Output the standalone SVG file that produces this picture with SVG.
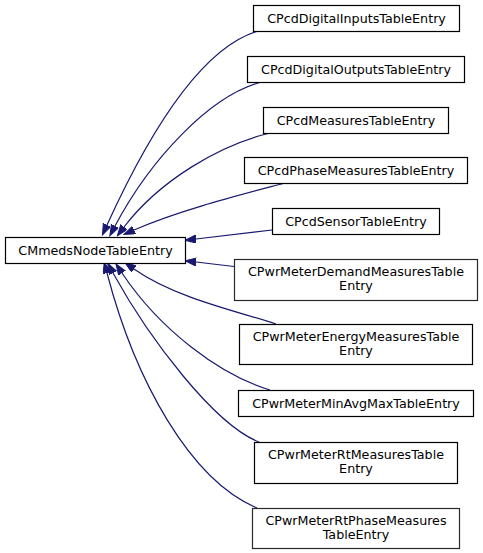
<svg xmlns="http://www.w3.org/2000/svg" width="483" height="553" viewBox="0 0 483 553">
<defs>
<style>
.box{fill:#ffffff;stroke:#000000;stroke-width:1.2}
.grey{stroke:#2a2a2a}
.lbl{font-family:"DejaVu Sans","Liberation Sans",sans-serif;font-size:12.7px;fill:#000000;text-anchor:middle}
.edge{fill:none;stroke:#191970;stroke-width:1.2}
</style>
<marker id="arr" markerUnits="userSpaceOnUse" markerWidth="12" markerHeight="9" refX="0" refY="4" orient="auto">
<path d="M0,0 L11,4 L0,8 z" fill="#191970" stroke="#191970" stroke-width="1"/>
</marker>
</defs>
<rect width="483" height="553" fill="#ffffff"/>
<g id="edges">
<path class="edge" marker-end="url(#arr)" d="M258,31 C200,48 148,135 107,225"/>
<path class="edge" marker-end="url(#arr)" d="M262,82 C210,95 150,160 115,226"/>
<path class="edge" marker-end="url(#arr)" d="M270,133 C220,145 160,180 124,227"/>
<path class="edge" marker-end="url(#arr)" d="M285,183 C240,195 180,210 134,230"/>
<path class="edge" marker-end="url(#arr)" d="M272,230 L196,239"/>
<path class="edge" marker-end="url(#arr)" d="M234,266.5 L196,262"/>
<path class="edge" marker-end="url(#arr)" d="M276,324 C240,312 175,298 134,269"/>
<path class="edge" marker-end="url(#arr)" d="M270,390 C220,375 160,330 122,273"/>
<path class="edge" marker-end="url(#arr)" d="M259,442 C215,425 150,340 113,273"/>
<path class="edge" marker-end="url(#arr)" d="M257,508 C190,480 135,380 107,273"/>
</g>
<g id="n1"><rect class="box" x="253.5" y="5.5" width="206" height="26"/><text class="lbl" x="356.5" y="23">CPcdDigitalInputsTableEntry</text></g>
<g id="n2"><rect class="box" x="247.5" y="56.5" width="217" height="26"/><text class="lbl" x="356" y="74">CPcdDigitalOutputsTableEntry</text></g>
<g id="n3"><rect class="box" x="263.5" y="107.5" width="185" height="26"/><text class="lbl" x="356" y="125">CPcdMeasuresTableEntry</text></g>
<g id="n4"><rect class="box" x="244.5" y="157.5" width="223" height="26"/><text class="lbl" x="356" y="175">CPcdPhaseMeasuresTableEntry</text></g>
<g id="n5"><rect class="box" x="272.5" y="208.5" width="167" height="26"/><text class="lbl" x="356" y="226">CPcdSensorTableEntry</text></g>
<g id="n0"><rect class="box" x="5.5" y="237.5" width="180" height="26"/><text class="lbl" x="95.5" y="255">CMmedsNodeTableEntry</text></g>
<g id="n6"><rect class="box grey" x="234.5" y="259.5" width="243" height="41"/><text class="lbl" x="356" y="276">CPwrMeterDemandMeasuresTable</text><text class="lbl" x="356" y="290">Entry</text></g>
<g id="n7"><rect class="box" x="239.5" y="324.5" width="233" height="40"/><text class="lbl" x="356" y="341">CPwrMeterEnergyMeasuresTable</text><text class="lbl" x="356" y="355">Entry</text></g>
<g id="n8"><rect class="box" x="238.5" y="390.5" width="235" height="26"/><text class="lbl" x="356" y="408">CPwrMeterMinAvgMaxTableEntry</text></g>
<g id="n9"><rect class="box" x="254.5" y="442.5" width="203" height="41"/><text class="lbl" x="356" y="459">CPwrMeterRtMeasuresTable</text><text class="lbl" x="356" y="473">Entry</text></g>
<g id="n10"><rect class="box grey" x="252.5" y="508.5" width="207" height="40"/><text class="lbl" x="356" y="525">CPwrMeterRtPhaseMeasures</text><text class="lbl" x="356" y="539">TableEntry</text></g>
</svg>
